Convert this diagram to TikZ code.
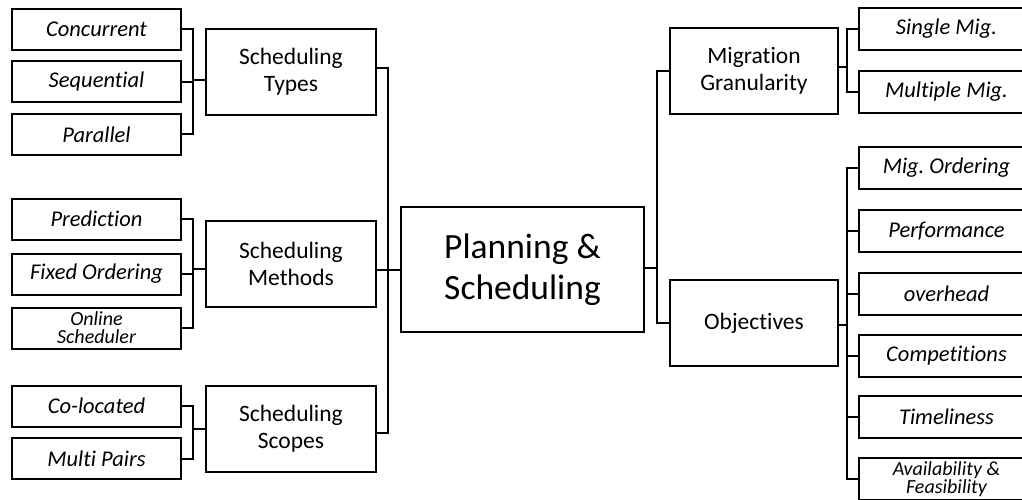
\documentclass[tikz,border=0pt]{standalone}
\usepackage{fontspec}
\setmainfont{Carlito}[Ligatures=NoCommon]
\begin{document}
\frenchspacing
\begin{tikzpicture}[x=1pt,y=-1pt,
  box/.style={draw,line width=2pt,fill=white,inner sep=0pt,align=center},
  leaf/.style={box,font=\fontsize{22.5}{24}\selectfont\itshape},
  tightleaf/.style={box,font=\fontsize{20}{18}\selectfont\itshape},
  mid/.style={box,font=\fontsize{23.5}{27}\selectfont},
  root/.style={box,font=\fontsize{35.5}{41}\selectfont},
  link/.style={line width=2pt,line cap=rect}]
\clip (0,0) rectangle (1022,500);
\fill[white] (0,0) rectangle (1022,500);

% center
\node[root,minimum width=243pt,minimum height=125pt] (ps) at (522.5,269.5) {Planning \&\\Scheduling};

% left middle level
\node[mid,minimum width=170pt,minimum height=86pt] (types) at (291,72) {Scheduling\\Types};
\node[mid,minimum width=170pt,minimum height=86pt] (methods) at (291,264) {Scheduling\\Methods};
\node[mid,minimum width=170pt,minimum height=86pt] (scopes) at (291,429) {Scheduling\\Scopes};

% left leaves
\node[leaf,minimum width=169pt,minimum height=41pt] (conc) at (96.5,29.5) {Concurrent};
\node[leaf,minimum width=169pt,minimum height=41pt] (seq) at (96.5,82) {Sequential};
\node[leaf,minimum width=169pt,minimum height=41pt] (par) at (96.5,134.5) {Parallel};
\node[leaf,minimum width=169pt,minimum height=41pt] (pred) at (96.5,219) {Prediction};
\node[leaf,minimum width=169pt,minimum height=41pt] (fixed) at (96.5,274) {Fixed Ordering};
\node[tightleaf,minimum width=169pt,minimum height=41pt] (online) at (96.5,328) {Online\\Scheduler};
\node[leaf,minimum width=169pt,minimum height=41pt] (coloc) at (96.5,406) {Co-located};
\node[leaf,minimum width=169pt,minimum height=41pt] (mpairs) at (96.5,458.5) {Multi Pairs};

% right middle level
\node[mid,minimum width=168pt,minimum height=86pt] (gran) at (754,71) {Migration\\Granularity};
\node[mid,minimum width=168pt,minimum height=86pt] (obj) at (754,323) {Objectives};

% right leaves (they run past the right edge)
\tikzset{rleaf/.style={minimum width=175pt,minimum height=42pt}}
\node[leaf,rleaf] (single) at (946.5,29) {Single Mig.};
\node[leaf,rleaf] (multiple) at (946.5,92) {Multiple Mig.};
\node[leaf,rleaf] (order) at (946.5,168) {Mig. Ordering};
\node[leaf,rleaf] (perf) at (946.5,231) {Performance};
\node[leaf,rleaf] (over) at (946.5,294) {overhead};
\node[leaf,rleaf] (comp) at (946.5,355.5) {Competitions};
\node[leaf,rleaf] (time) at (946.5,417) {Timeliness};
\node[tightleaf,rleaf] (avail) at (946.5,479) {Availability \&\\Feasibility};

% bracket joints
\coordinate (jt) at (193,80);
\coordinate (jm) at (193,269);
\coordinate (js) at (193,429);
\coordinate (jl) at (388,269.5);
\coordinate (jr) at (657,268);
\coordinate (jg) at (847,67);
\coordinate (jo) at (847,325);

% connectors: left side
\foreach \c in {conc,seq,par} \draw[link] (\c.east) -| (jt);
\draw[link] (jt) -- (jt -| types.west);
\foreach \c in {pred,fixed,online} \draw[link] (\c.east) -| (jm);
\draw[link] (jm) -- (jm -| methods.west);
\foreach \c in {coloc,mpairs} \draw[link] (\c.east) -| (js);
\draw[link] (js) -- (js -| scopes.west);
\draw[link] (types.east |- 0,68) -| (jl);
\draw[link] (methods.east |- jl) -- (jl);
\draw[link] (scopes.east |- 0,433) -| (jl);
\draw[link] (jl) -- (ps.west);

% connectors: right side
\draw[link] (ps.east |- jr) -- (jr);
\foreach \c in {gran,obj} \draw[link] (jr) |- (\c.west);
\draw[link] (gran.east |- jg) -- (jg);
\foreach \c in {single,multiple} \draw[link] (jg) |- (\c.west);
\draw[link] (obj.east |- jo) -- (jo);
\foreach \c in {order,perf,over,comp,time,avail} \draw[link] (jo) |- (\c.west);
\end{tikzpicture}
\end{document}
